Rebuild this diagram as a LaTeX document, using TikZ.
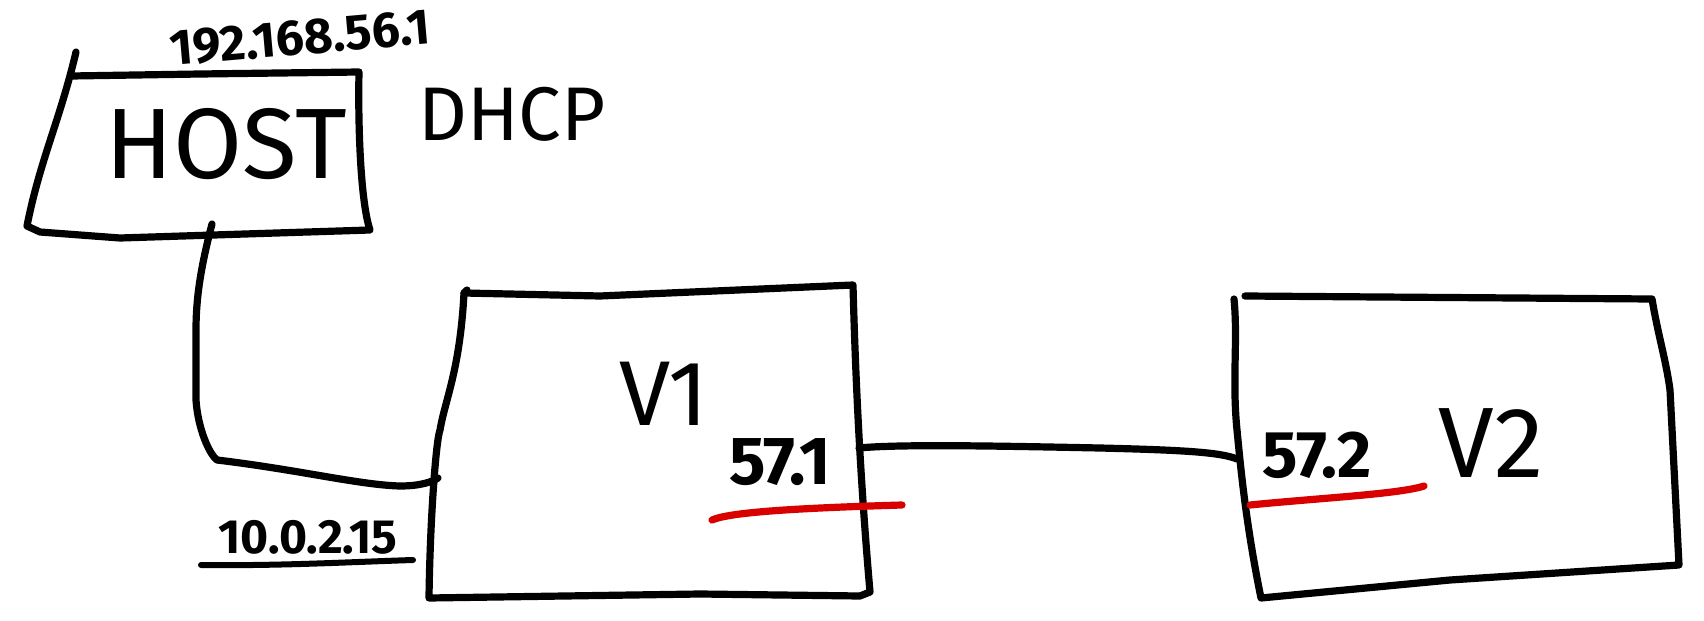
\documentclass[tikz,border=0pt]{standalone}
\usepackage{fontspec}
\setmainfont{Fira Sans}
\begin{document}
\begin{tikzpicture}[x=0.5pt,y=-0.5pt,
  pen/.style={line width=3.6pt,line cap=round,line join=round,black},
  redpen/.style={line width=3.6pt,line cap=round,red!85!black},
  lbl/.style={inner sep=0pt,font=\fontsize{#1}{#1}\selectfont},
  blbl/.style={inner sep=0pt,font=\fontsize{#1}{#1}\selectfont\bfseries}]
\useasboundingbox (0,0) rectangle (1704,621);
% HOST box
\coordinate (hTL) at (71,76);
\coordinate (hTR) at (359,72);
\coordinate (hBR) at (370,230);
\coordinate (hBL) at (27,226);
\coordinate (hB) at (212,224);
\draw[pen] (76,52) .. controls (60,120) and (40,160) .. (hBL) -- (40,232) -- (120,238) -- (hBR) .. controls (360,200) and (358,120) .. (hTR) -- (200,74) -- (hTL);
% V1 box
\coordinate (aTL) at (464,293);
\coordinate (aTR) at (853,285);
\coordinate (aBR) at (870,592);
\coordinate (aBL) at (429,598);
\coordinate (aL) at (438,478);
\coordinate (aR) at (859,448);
\draw[pen] (aTL) -- (600,296) -- (aTR) .. controls (856,400) and (862,500) .. (aBR) -- (860,596) -- (700,594) -- (aBL) .. controls (430,520) and (436,440) .. (440,430) .. controls (445,400) and (460,370) .. (aTL);
\draw[pen] (467,290) -- (aTL);
% V2 box
\coordinate (bTL) at (1245,296);
\coordinate (bTR) at (1652,299);
\coordinate (bBR) at (1679,565);
\coordinate (bBL) at (1261,598);
\coordinate (bL) at (1237,459);
\draw[pen] (bTL) -- (bTR) .. controls (1658,335) and (1666,360) .. (1670,390) -- (bBR) -- (1450,580) -- (bBL) .. controls (1245,520) and (1240,460) .. (1237,430) .. controls (1232,380) and (1238,340) .. (1234,299);
% connectors
\draw[pen] (hB) .. controls (200,270) and (196,300) .. (196,330) -- (196,400) .. controls (198,430) and (210,455) .. (217,460) .. controls (300,470) and (360,485) .. (400,486) .. controls (420,486) and (432,482) .. (aL);
\draw[pen] (aR) .. controls (900,444) and (1000,446) .. (1100,448) .. controls (1180,450) and (1220,452) .. (bL);
% labels
\node[lbl=50,anchor=center] (host) at (226,144) {HOST};
\node[blbl=25,anchor=center,rotate=5] (ip1) at (300,38) {192.168.56.1};
\node[lbl=38,anchor=center] (dhcp) at (512,114) {DHCP};
\node[lbl=46,anchor=center] (v1) at (664,394) {V1};
\node[blbl=34,anchor=center] (a571) at (780,462) {57.1};
\node[blbl=24,anchor=center] (ip2) at (308,537) {10.0.2.15};
\node[blbl=33,anchor=center] (b572) at (1317,455) {57.2};
\node[lbl=50,anchor=center] (v2) at (1491,443) {V2};
% underlines
\coordinate (u1a) at (201,565);
\coordinate (u1b) at (413,560);
\draw[pen,line width=3pt] (u1a) .. controls (280,566) and (350,562) .. (u1b);
\coordinate (r1a) at (712,520);
\coordinate (r1b) at (902,505);
\draw[redpen] (r1a) .. controls (730,512) and (800,508) .. (r1b);
\coordinate (r2a) at (1250,505);
\coordinate (r2b) at (1424,486);
\draw[redpen] (r2a) .. controls (1320,498) and (1400,494) .. (r2b);
\end{tikzpicture}
\end{document}
